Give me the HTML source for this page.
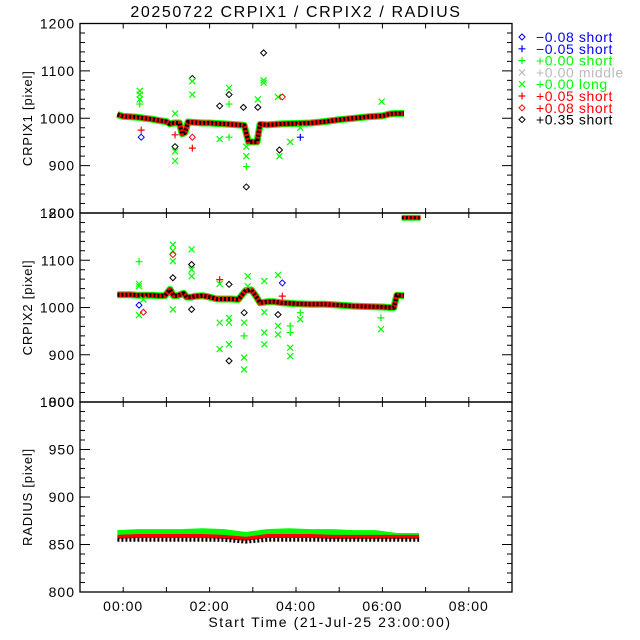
<!DOCTYPE html>
<html><head><meta charset="utf-8"><style>
html,body{margin:0;padding:0;background:#fff;}
svg{display:block;font-family:"Liberation Sans","DejaVu Sans",sans-serif;}
</style></head><body>
<svg id="chart" width="640" height="640" viewBox="0 0 640 640"></svg>
<script>
const xTickMinutes = [0,120,240,360,480];
const xTickLabels = ["00:00","02:00","04:00","06:00","08:00"];
// Panel 1 CRPIX1 baseline
const p1Times = [-8,0,10,20,30,40,50,60,65,70,78,82,86,90,100,110,120,130,140,150,160,168,174,180,186,190,200,210,220,240,260,280,300,320,340,360,370,380,390];
const p1Vals  = [1008,1004,1003,1002,1000,998,995,993,988,990,990,967,970,992,991,990,990,989,988,987,986,985,950,950,950,987,986,987,988,989,990,993,997,1000,1003,1005,1009,1010,1010];
const p1OutT = [23,23,23,23,25,25,72,72,72,72,72,96,96,96,96,96,134,134,147,147,147,147,167,171,171,171,171,187,187,195,195,195,215,217,217,221,232,246,246,359];
const p1OutV = [1058,1050,1040,1030,975,960,1010,965,940,930,910,1084,1078,1050,960,937,1026,956,1064,1050,1030,960,1023,940,920,898,855,1023,1040,1138,1080,1075,1045,933,920,1045,950,980,960,1035];
const p1OutS = ["gx","gx","gx","g+","r+","bd","gx","r+","kd","gx","gx","kd","gx","gx","rd","r+","kd","gx","gx","kd","g+","g+","kd","gx","gx","g+","kd","kd","gx","kd","gx","gx","gx","kd","gx","rd","gx","gx","b+","gx"];
// Panel 2 CRPIX2 baseline
const p2Times = [-8,0,10,20,30,40,50,58,65,70,75,84,88,95,100,110,120,130,140,150,160,170,178,184,190,200,210,220,240,260,280,300,320,340,360,370,376,380,390];
const p2Vals  = [1027,1027,1027,1026,1026,1026,1025,1025,1038,1025,1025,1030,1022,1022,1024,1025,1022,1018,1018,1018,1017,1036,1037,1025,1010,1012,1012,1010,1008,1007,1007,1005,1003,1002,1001,1000,1000,1026,1025];
const p2HighT = [387,392,397,402,407,413];
const p2HighV = [1190,1190,1190,1190,1190,1190];
const p2OutT = [22,22,22,22,22,28,28,69,69,69,69,69,69,95,95,95,95,95,134,134,134,134,147,147,147,147,147,168,168,168,168,168,173,173,196,196,196,196,215,215,215,215,221,221,232,232,232,232,246,246,358,358];
const p2OutV = [1097,1050,1045,1005,984,990,1017,1133,1120,1112,1098,1063,996,1123,1091,1080,1066,996,1059,1050,968,912,1049,978,968,922,887,989,968,940,894,869,1066,1045,1056,990,947,922,1069,985,961,943,1052,1024,961,947,915,897,989,975,978,954];
const p2OutS = ["g+","gx","gx","bd","gx","rd","gx","gx","gx","rd","gx","kd","gx","gx","kd","gx","gx","kd","r+","gx","gx","gx","kd","gx","gx","gx","kd","kd","gx","g+","gx","gx","gx","gx","gx","gx","gx","gx","gx","kd","gx","gx","bd","r+","g+","g+","gx","gx","g+","gx","g+","gx"];
// Panel 3 RADIUS
const p3Times = [-8,20,50,80,110,140,170,200,230,260,290,320,350,380,411];
const p3Green = [862,863,863,863,864,863,860,863,864,863,863,862,862,859,859];
const p3Red   = [858,859,859,859,859,858,856,859,859,859,858,858,858,858,858];
const p3Black = [855,855,855,855,855,855,853,855,855,855,855,855,855,855,855];
const legendSigns = ["\u22120.08","\u22120.05","+0.00","+0.00","+0.00","+0.05","+0.08","+0.35"];
const legendKinds = ["short","short","short","middle","long","short","short","short"];

const NS="http://www.w3.org/2000/svg";
const svg=document.getElementById('chart');
const X0=80,X1=512,TMIN=-60,TMAX=540;
function xs(t){return X0+(t-TMIN)/(TMAX-TMIN)*(X1-X0);}
const panels=[
 {top:23.5,bot:213,min:800,max:1200,major:100,minor:20,title:"CRPIX1 [pixel]",name:"crpix1"},
 {top:213,bot:402,min:800,max:1200,major:100,minor:20,title:"CRPIX2 [pixel]",name:"crpix2"},
 {top:402,bot:592,min:800,max:1000,major:50,minor:10,title:"RADIUS [pixel]",name:"radius"}];
function ys(p,v){return p.bot-(v-p.min)/(p.max-p.min)*(p.bot-p.top);}
function mk(tag,attrs,parent){const e=document.createElementNS(NS,tag);for(const k in attrs)e.setAttribute(k,attrs[k]);(parent||svg).appendChild(e);return e;}
const COL={g:"#00ff00",r:"#ff0000",k:"#000000",b:"#0000ff",a:"#bbbbbb"};
function marker(g,kind,x,y){
 const c=COL[kind[0]],s=kind[1];let e;
 if(s==="x"){e=mk('path',{d:`M${x-3},${y-3}L${x+3},${y+3}M${x-3},${y+3}L${x+3},${y-3}`,stroke:c,'stroke-width':1.2,fill:'none'},g);}
 else if(s==="+"){e=mk('path',{d:`M${x-3.5},${y}L${x+3.5},${y}M${x},${y-3.5}L${x},${y+3.5}`,stroke:c,'stroke-width':1.2,fill:'none'},g);}
 else {e=mk('path',{d:`M${x},${y-3}L${x+3},${y}L${x},${y+3}L${x-3},${y}Z`,stroke:c,'stroke-width':1,fill:'none'},g);}
 
 
}
function band(g,p,T,V,color,w,dash){
 const pts=T.map((t,i)=>xs(t).toFixed(1)+","+ys(p,V[i]).toFixed(1)).join(" ");
 const e=mk('polyline',{points:pts,fill:'none',stroke:color,'stroke-width':w,'stroke-linejoin':'round'},g);
 if(dash)e.setAttribute('stroke-dasharray',dash);
 
 
}
const ti=mk('text',{x:296,y:17,'text-anchor':'middle','font-size':16,'letter-spacing':1.6,fill:'#000'});ti.textContent="20250722 CRPIX1 / CRPIX2 / RADIUS";


panels.forEach((p,pi)=>{
 const g=mk('g',{});
 
 
 if(pi===0){
  band(g,p,p1Times,p1Vals,"#00ff00",7);
  band(g,p,p1Times,p1Vals,"#ff0000",5);
  band(g,p,p1Times,p1Vals,"#000000",4,"2 2");
  p1OutT.forEach((t,i)=>marker(g,p1OutS[i],xs(t),ys(p,p1OutV[i])));
 } else if(pi===1){
  band(g,p,p2Times,p2Vals,"#00ff00",7);
  band(g,p,p2Times,p2Vals,"#ff0000",5);
  band(g,p,p2Times,p2Vals,"#000000",4,"2 2");
  band(g,p,p2HighT,p2HighV,"#00ff00",6);
  band(g,p,p2HighT,p2HighV,"#ff0000",4);
  band(g,p,p2HighT,p2HighV,"#000000",3,"2 2");
  p2OutT.forEach((t,i)=>marker(g,p2OutS[i],xs(t),ys(p,p2OutV[i])));
 } else {
  band(g,p,p3Times,p3Green,"#00ff00",6);
  band(g,p,p3Times,p3Red,"#ff0000",4);
  band(g,p,p3Times,p3Black,"#000000",4,"2 2");
 }
 const fr=mk('rect',{x:X0,y:p.top,width:X1-X0,height:p.bot-p.top,fill:'none',stroke:'#000','stroke-width':1.3},g);
 
 for(let v=p.min;v<=p.max+0.01;v+=p.minor){
  const y=ys(p,v);const major=Math.abs((v-p.min)%p.major)<0.01;const L=major?10:5;
  mk('path',{d:`M${X0},${y}L${X0+L},${y}M${X1},${y}L${X1-L},${y}`,stroke:'#000','stroke-width':1},g);
  if(major){const t=mk('text',{x:X0-5,y:y+5,'text-anchor':'end','font-size':14,'letter-spacing':1,fill:'#000'},g);t.textContent=v;
   }
 }
 for(let t=TMIN+60;t<TMAX;t+=60){
  const x=xs(t);
  mk('path',{d:`M${x},${p.bot}L${x},${p.bot-5}M${x},${p.top}L${x},${p.top+5}`,stroke:'#000','stroke-width':1},g);
 }
 const yt=mk('text',{x:0,y:0,transform:`translate(32,${(p.top+p.bot)/2}) rotate(-90)`,'text-anchor':'middle','font-size':13,'letter-spacing':0.8,fill:'#000'},g);
 yt.textContent=p.title;
});
xTickMinutes.forEach((m,i)=>{
 const t=mk('text',{x:xs(m),y:611,'text-anchor':'middle','font-size':14,'letter-spacing':1,fill:'#000'});t.textContent=xTickLabels[i];
 
});
const xt=mk('text',{x:330,y:627,'text-anchor':'middle','font-size':14,'letter-spacing':1.6,fill:'#000'});xt.textContent="Start Time (21-Jul-25 23:00:00)";

const legSym=["bd","b+","g+","ax","gx","r+","rd","kd"];
const legCol=["#0000ff","#0000ff","#00ff00","#bbbbbb","#00ff00","#ff0000","#ff0000","#000000"];
legendSigns.forEach((s,i)=>{
 const y=37+i*11.8;
 const g=mk('g',{});
 
 
 marker(g,legSym[i],522,y);
 const t=mk('text',{x:536,y:y+5,'font-size':14,'letter-spacing':0.6,fill:legCol[i]},g);t.textContent=s+" "+legendKinds[i];
});
</script>
</body></html>
